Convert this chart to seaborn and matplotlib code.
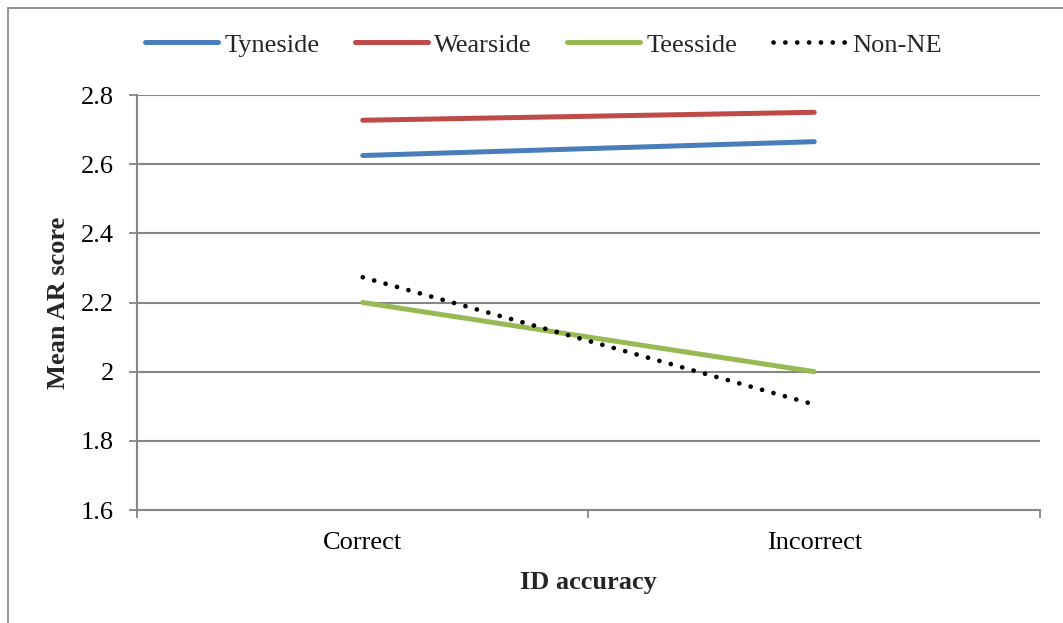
import matplotlib
matplotlib.use("Agg")
import matplotlib.pyplot as plt
import seaborn as sns
import pandas as pd
from matplotlib.patches import Rectangle
from matplotlib.ticker import FixedLocator, FuncFormatter

# Mean AR scores by region and ID accuracy
categories = ["Correct", "Incorrect"]
tyneside = [2.625, 2.665]
wearside = [2.727, 2.750]
teesside = [2.200, 2.000]
non_ne = [2.273, 1.905]
regions = ["Tyneside", "Wearside", "Teesside", "Non-NE"]
y_ticks = [1.6, 1.8, 2.0, 2.2, 2.4, 2.6, 2.8]

df = pd.DataFrame({
    "ID accuracy": categories * 4,
    "Mean AR score": tyneside + wearside + teesside + non_ne,
    "Region": [r for r in regions for _ in categories],
})

sns.set_theme(style="white")
plt.rcParams["font.family"] = ["Liberation Serif", "DejaVu Serif"]

palette = {"Tyneside": "#4A7EBB", "Wearside": "#BE4B48",
           "Teesside": "#98B954", "Non-NE": "#000000"}
FS = 19
LW = 3.6
DOT = (0.01, 2.5)

fig = plt.figure(figsize=(10.63, 6.23), dpi=100)
fig.patches.append(Rectangle((8 / 1063, -0.1), 1.2, (623 - 8) / 623 + 0.1,
                             transform=fig.transFigure, fill=False,
                             edgecolor="#8C8C8C", linewidth=1.3))
ax = fig.add_axes([137 / 1063, 1 - 510 / 623, (1040 - 137) / 1063, (510 - 95) / 623])

sns.lineplot(data=df, x="ID accuracy", y="Mean AR score", hue="Region",
             hue_order=regions, palette=palette, linewidth=LW, ax=ax,
             sort=False, legend=False)

for line, name in zip(ax.get_lines(), regions):
    line.set_solid_capstyle("round")
    if name == "Non-NE":
        line.set_linewidth(3.4)
        line.set_dashes(DOT)
        line.set_dash_capstyle("round")

ax.set_xlim(-0.5, 1.5)
ax.set_ylim(1.6, 2.8)
ax.yaxis.set_major_locator(FixedLocator(y_ticks))
ax.yaxis.set_major_formatter(FuncFormatter(lambda v, p: f"{v:g}"))
ax.set_xticks([0, 1])
ax.set_xticklabels(categories)
ax.xaxis.set_minor_locator(FixedLocator([-0.5, 0.5, 1.5]))

grid_c = "#868686"
ax.grid(axis="y", color=grid_c, linewidth=1.5)
ax.set_axisbelow(True)
for s in ["top", "right"]:
    ax.spines[s].set_visible(False)
for s in ["left", "bottom"]:
    ax.spines[s].set_color(grid_c)
    ax.spines[s].set_linewidth(1.5)

ax.tick_params(axis="y", which="major", direction="out", length=5.5, width=1.3,
               color=grid_c, left=True, labelsize=FS, pad=11, labelcolor="black")
ax.tick_params(axis="x", which="major", length=0, labelsize=FS, pad=16,
               labelcolor="black")
ax.tick_params(axis="x", which="minor", direction="out", length=5.5, width=1.3,
               color=grid_c, bottom=True)

ax.set_xlabel("ID accuracy", fontsize=FS, fontweight="bold", labelpad=12)
ax.set_ylabel("Mean AR score", fontsize=FS, fontweight="bold", labelpad=8)

handles = [plt.Line2D([], [], color=palette[r], linewidth=LW,
                      solid_capstyle="round") for r in regions[:3]]
dot = plt.Line2D([], [], color="black", linewidth=3.4)
dot.set_dashes(DOT)
dot.set_dash_capstyle("round")
handles.append(dot)
fig.legend(handles, regions, loc="center",
           bbox_to_anchor=(0.5 + 12 / 1063, 1 - 45 / 623),
           ncol=4, frameon=False, fontsize=FS, handlelength=2.75,
           handletextpad=0.25, columnspacing=1.35)

fig.savefig("out.png", dpi=100)
